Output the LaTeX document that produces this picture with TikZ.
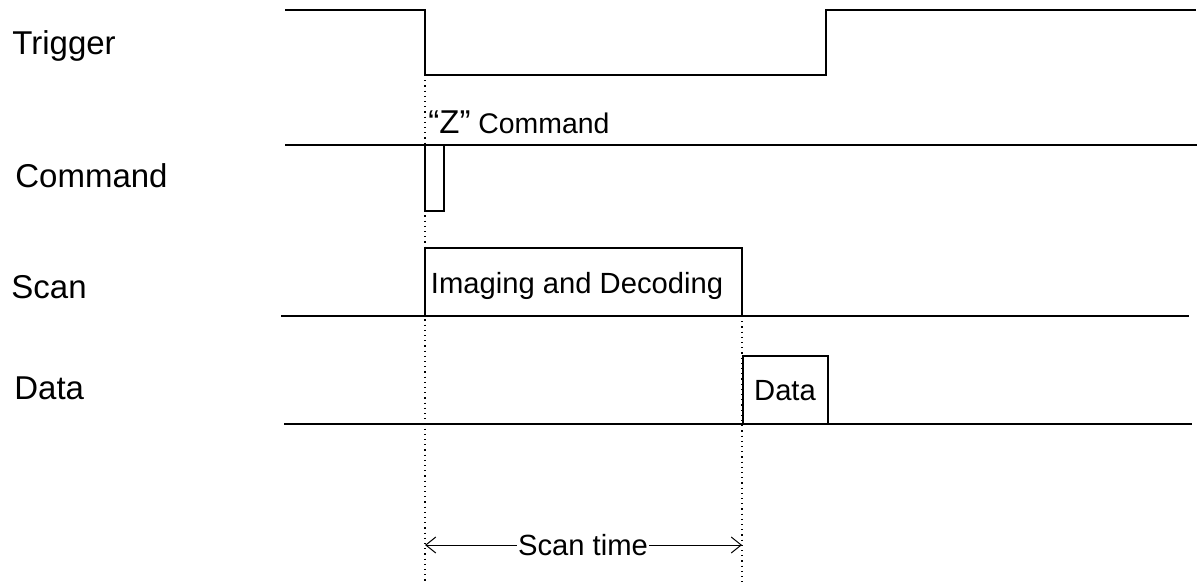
\documentclass[tikz,border=0pt]{standalone}
\usepackage{fontspec}
\setmainfont{Liberation Sans}
\usetikzlibrary{arrows.meta}
\begin{document}
\begin{tikzpicture}[x=0.5pt,y=-0.5pt,
  sig/.style={line width=0.7pt, black},
  guide/.style={dotted, line width=0.6pt},
  lbl/.style={anchor=base west, inner sep=0pt, font=\fontsize{16.5}{18}\selectfont},
  txt/.style={anchor=base, inner sep=0pt, font=\fontsize{14.6}{16}\selectfont},
]
\useasboundingbox (0,0) rectangle (1197,584);
% guides
\coordinate (g1t) at (425,75);
\coordinate (g1b) at (425,584);
\coordinate (g2t) at (742,316);
\coordinate (g2b) at (742,584);
\draw[guide] (g1t) -- (g1b);
\draw[guide] (g2t) -- (g2b);
% Trigger
\draw[sig] (285,10) -- (425,10) -- (425,75) -- (826,75) -- (826,10) -- (1196,10);
% Command
\draw[sig] (285,145) -- (1197,145);
\draw[sig] (425,145) rectangle (444,211);
% Scan
\draw[sig] (281,316) -- (1189,316);
\draw[sig] (425,316) -- (425,248) -- (742,248) -- (742,316);
% Data
\draw[sig] (284,424) -- (1192,424);
\draw[sig] (743,424) -- (743,356) -- (828,356) -- (828,424);
% labels
\node[lbl] (ltrig) at (12,54) {Trigger};
\node[lbl] (lcmd) at (15,187) {Command};
\node[lbl] (lscan) at (11,298) {Scan};
\node[lbl] (ldata) at (14,399) {Data};
\node[anchor=base west, inner sep=0pt, font=\fontsize{14.2}{16}\selectfont] (zcmd) at (428,133) {{\fontsize{16.5}{18}\selectfont “Z”} Command};
\node[txt] (imdec) at (577,293) {Imaging and Decoding};
\node[txt] (dbox) at (785,400) {Data};
% scan time
\coordinate (st1) at (425,545);
\coordinate (st2) at (742,545);
\draw[line width=0.5pt, {Straight Barb[length=5pt,width=8pt]}-{Straight Barb[length=5pt,width=8pt]}] (st1) -- (st2);
\node[txt, fill=white, inner xsep=0.6pt, inner ysep=0pt] (stime) at (583,555) {Scan time};
\end{tikzpicture}
\end{document}
